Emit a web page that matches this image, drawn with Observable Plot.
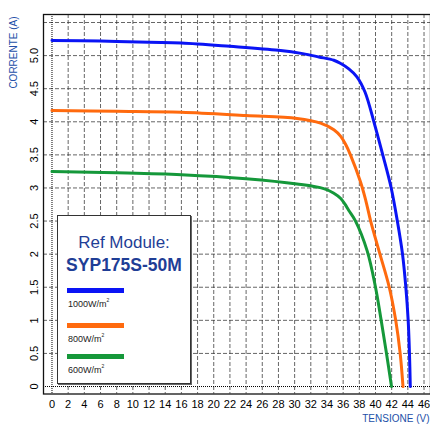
<!DOCTYPE html>
<html><head><meta charset="utf-8">
<script src="https://cdn.jsdelivr.net/npm/d3@7"></script>
<script src="https://cdn.jsdelivr.net/npm/@observablehq/plot@0.6"></script>
<style>
html,body{margin:0;padding:0;background:#fff;}
#wrap{position:relative;width:430px;height:424px;overflow:hidden;font-family:"Liberation Sans",Arial,sans-serif;}
#legend{position:absolute;left:57px;top:215px;width:134px;height:169px;border:1px solid #333;background:#fff;box-shadow:1px 1px 0 #666;box-sizing:border-box;}
#legend .t1{position:absolute;left:0;width:100%;text-align:center;top:17px;font-size:17px;color:#1f3e96;line-height:20px;}
#legend .t2{position:absolute;left:0;width:100%;text-align:center;top:39px;font-size:17.5px;font-weight:bold;color:#1f3e96;line-height:20px;}
#legend .sw{position:absolute;left:9px;width:57px;height:5px;}
#legend .lb{position:absolute;left:10px;font-size:9px;color:#222;line-height:10px;}
#legend .lb sup{font-size:5px;position:relative;top:-1px;vertical-align:top;line-height:5px;}
</style></head><body><div id="wrap"></div>
<script>
// I-V curves, SYP175S-50M
const seriesNames = ["1000W/m²", "800W/m²", "600W/m²"];
const seriesColors = ["#0a14f5", "#ff6a0e", "#15983a"];
const volt1000 = [0, 6, 12, 16, 22, 28, 31, 33, 34.85, 35.7, 36.7, 37.7, 38.7, 39.8, 40.9, 41.94, 42.7, 43.34, 43.75, 44.04, 44.2, 44.3];
const curr1000 = [5.23, 5.22, 5.20, 5.19, 5.14, 5.08, 5.03, 4.98, 4.93, 4.88, 4.80, 4.68, 4.45, 4.0, 3.5, 3.0, 2.5, 2.0, 1.5, 1.0, 0.5, 0];
const volt800 = [0, 8, 16, 24, 30.3, 33.2, 34.85, 35.7, 36.3, 36.9, 38.15, 38.8, 39.4, 40.55, 41.7, 42.5, 43.05, 43.4];
const curr800 = [4.17, 4.16, 4.145, 4.095, 4.05, 3.98, 3.88, 3.78, 3.66, 3.5, 3.09, 2.81, 2.5, 2.0, 1.5, 1.0, 0.5, 0];
const volt600 = [0, 8, 16, 24, 30.3, 33.6, 34.85, 35.7, 36.2, 36.7, 37.53, 38.97, 40.0, 40.7, 41.36, 41.98];
const curr600 = [3.25, 3.23, 3.20, 3.14, 3.06, 2.99, 2.92, 2.84, 2.76, 2.66, 2.5, 2.05, 1.5, 1.0, 0.5, 0];
const xTicks = [0,2,4,6,8,10,12,14,16,18,20,22,24,26,28,30,32,34,36,38,40,42,44,46];
const yTicks = [0,0.5,1,1.5,2,2.5,3,3.5,4,4.5,5];
const yTickLabels = ["0","0.5","1","1.5","2","2.5","3","3.5","4","4.5","5.0"];
const xGrid = xTicks.filter(d => d > 0);
const yGrid = [0.5,1,1.5,2,2.5,3,3.5,4,4.5,5,5.5];

const volts = [volt1000, volt800, volt600];
const currs = [curr1000, curr800, curr600];
const rows = [];
seriesNames.forEach((s, k) => volts[k].forEach((v, i) => rows.push({series: s, V: v, I: currs[k][i]})));

const chart = Plot.plot({
  width: 430, height: 424,
  marginLeft: 43, marginTop: 14, marginRight: 0, marginBottom: 30.5,
  x: {domain: [-1.05, 46.8]},
  y: {domain: [-0.113, 5.621]},
  color: {domain: seriesNames, range: seriesColors},
  style: {fontFamily: "'Liberation Sans', Arial, sans-serif", fontSize: "11px", background: "#fff", color: "#000"},
  marks: [
    Plot.ruleX(xGrid, {stroke: "#333", strokeOpacity: 0.75, strokeDasharray: "4,2"}),
    Plot.ruleY(yGrid, {stroke: "#333", strokeOpacity: 0.75, strokeDasharray: "4,2"}),
    Plot.ruleX([0], {stroke: "#000", strokeDasharray: "1,1"}),
    Plot.ruleY([0], {stroke: "#000", strokeDasharray: "1,1"}),
    Plot.line(rows, {x: "V", y: "I", z: "series", stroke: "series", strokeWidth: 3, curve: "catmull-rom"}),
    Plot.frame({stroke: "#111", strokeWidth: 1.3}),
    Plot.axisX({ticks: xTicks, tickSize: 0, tickPadding: 6, label: null, fontSize: 11}),
    Plot.axisY({ticks: yTicks, tickSize: 0, tickPadding: 6, tickRotate: -90, label: null, fontSize: 11,
      tickFormat: d => yTickLabels[yTicks.indexOf(d)]}),
    Plot.text(["CORRENTE (A)"], {frameAnchor: "top-left", textAnchor: "middle", lineAnchor: "middle", rotate: -90,
      dx: -30, dy: 38, fill: "#2350a8", fontSize: 10}),
    Plot.text(["TENSIONE (V)"], {frameAnchor: "bottom-right", textAnchor: "end", lineAnchor: "bottom", dx: -1, dy: 28,
      fill: "#2350a8", fontSize: 10})
  ]
});
const wrap = document.getElementById("wrap");
wrap.appendChild(chart);

const legend = document.createElement("div");
legend.id = "legend";
legend.innerHTML = '<div class="t1">Ref Module:</div><div class="t2">SYP175S-50M</div>';
const swTops = [72, 107, 138];
seriesNames.forEach((s, k) => {
  const sw = document.createElement("div");
  sw.className = "sw"; sw.style.top = swTops[k] + "px"; sw.style.background = seriesColors[k];
  legend.appendChild(sw);
  const lb = document.createElement("div");
  lb.className = "lb"; lb.style.top = (swTops[k] + 11) + "px";
  lb.innerHTML = s.replace("²", "<sup>2</sup>");
  legend.appendChild(lb);
});
wrap.appendChild(legend);
</script></body></html>
